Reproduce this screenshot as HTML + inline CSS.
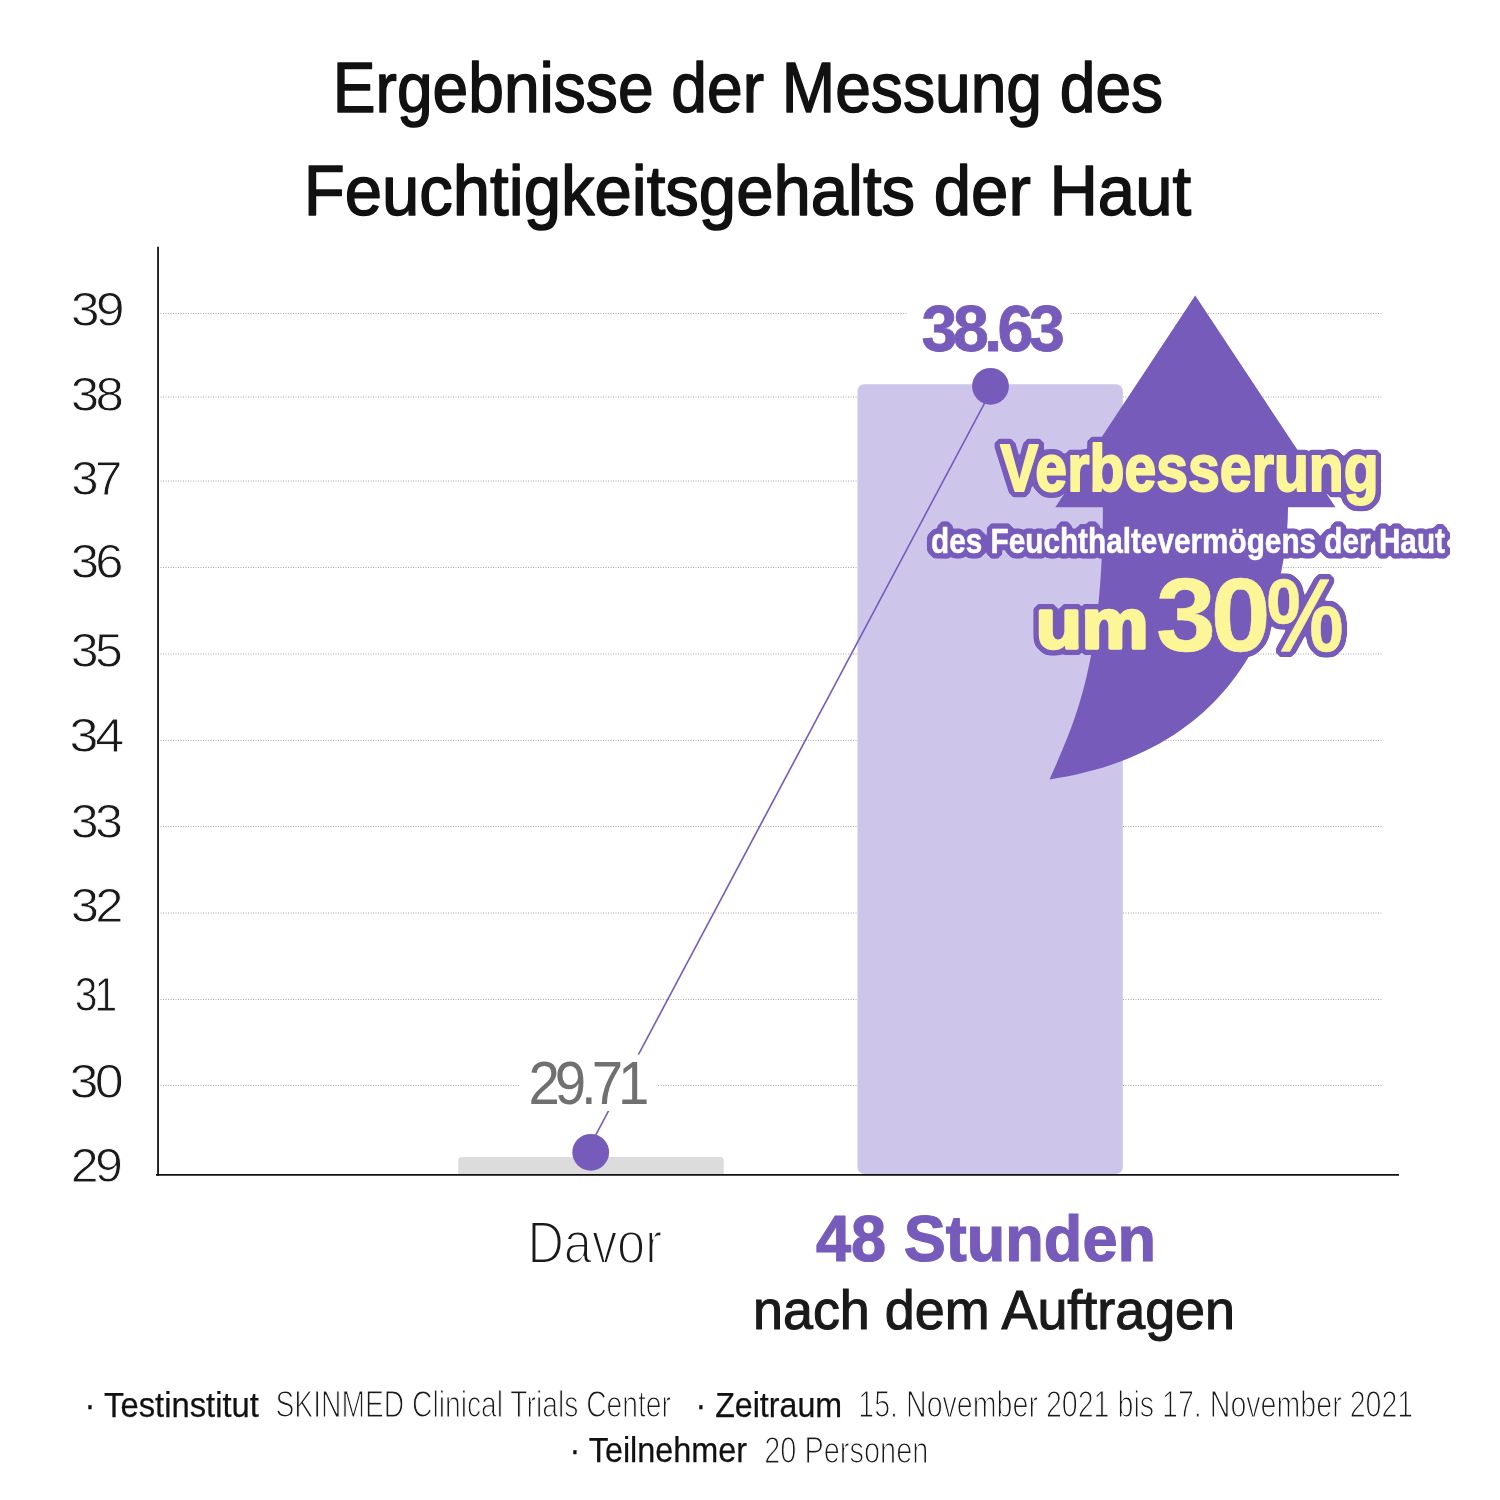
<!DOCTYPE html>
<html lang="de">
<head>
<meta charset="utf-8">
<title>Ergebnisse der Messung des Feuchtigkeitsgehalts der Haut</title>
<style>
  html, body { margin: 0; padding: 0; background: #ffffff; }
  body { width: 1500px; height: 1500px; overflow: hidden; }
  svg { display: block; }
  text { font-family: "Liberation Sans", sans-serif; }
  .ttl  { font-size: 70.7px; fill: #111111; stroke: #111111; stroke-width: 1.5px; stroke-linejoin: round; }
  .ylab { letter-spacing: -3.5px; font-size: 49px; fill: #1a1a1a; stroke: #ffffff; stroke-width: 0.9px; }
  .grid { stroke: #a8a8a8; stroke-width: 1; stroke-dasharray: 1 1.5; fill: none; }
  .axis { stroke: #111111; fill: none; }
  .pur  { fill: #765bbb; }
  .foot { fill: #1a1a1a; }
  .footb { font-size: 34.9px; fill: #111111; stroke: #111111; stroke-width: 0.25px; }
  .footl { font-size: 36.8px; stroke: #ffffff; stroke-width: 1.2px; }
</style>
</head>
<body>
<svg width="1500" height="1500" viewBox="0 0 1500 1500">
  <rect x="0" y="0" width="1500" height="1500" fill="#ffffff"/>

  <!-- TITLE -->
  <g id="title">
    <text id="t1" class="ttl" x="332.85" y="112.0" textLength="830.26" lengthAdjust="spacingAndGlyphs">Ergebnisse der Messung des</text>
    <text id="t2" class="ttl" x="303.67" y="215.0" textLength="887.43" lengthAdjust="spacingAndGlyphs">Feuchtigkeitsgehalts der Haut</text>
  </g>

  <!-- GRID -->
  <g id="grid">
    <line class="grid" x1="160.5" x2="1381.5" y1="313.5" y2="313.5"/>
    <line class="grid" x1="160.5" x2="1381.5" y1="397" y2="397"/>
    <line class="grid" x1="160.5" x2="1381.5" y1="481" y2="481"/>
    <line class="grid" x1="160.5" x2="1381.5" y1="567.5" y2="567.5"/>
    <line class="grid" x1="160.5" x2="1381.5" y1="654" y2="654"/>
    <line class="grid" x1="160.5" x2="1381.5" y1="740.5" y2="740.5"/>
    <line class="grid" x1="160.5" x2="1381.5" y1="826.5" y2="826.5"/>
    <line class="grid" x1="160.5" x2="1381.5" y1="913" y2="913"/>
    <line class="grid" x1="160.5" x2="1381.5" y1="999.5" y2="999.5"/>
    <line class="grid" x1="160.5" x2="1381.5" y1="1085.5" y2="1085.5"/>
  </g>

  <!-- Y LABELS -->
  <g id="ylabels">
    <text id="y39" class="ylab" x="70.65" y="326.2" textLength="50.33" lengthAdjust="spacingAndGlyphs">39</text>
    <text id="y38" class="ylab" x="70.72" y="410.6" textLength="49.45" lengthAdjust="spacingAndGlyphs">38</text>
    <text id="y37" class="ylab" x="71.25" y="495" textLength="47.67" lengthAdjust="spacingAndGlyphs">37</text>
    <text id="y36" class="ylab" x="70.68" y="578.3" textLength="49.33" lengthAdjust="spacingAndGlyphs">36</text>
    <text id="y35" class="ylab" x="70.76" y="667.3" textLength="48.54" lengthAdjust="spacingAndGlyphs">35</text>
    <text id="y34" class="ylab" x="69.36" y="751.7" textLength="51.08" lengthAdjust="spacingAndGlyphs">34</text>
    <text id="y33" class="ylab" x="70.76" y="838.3" textLength="48.54" lengthAdjust="spacingAndGlyphs">33</text>
    <text id="y32" class="ylab" x="70.69" y="922.3" textLength="49.18" lengthAdjust="spacingAndGlyphs">32</text>
    <text id="y31" class="ylab" x="74.65" y="1011" textLength="39.52" lengthAdjust="spacingAndGlyphs">31</text>
    <text id="y30" class="ylab" x="69.48" y="1098.3" textLength="50.48" lengthAdjust="spacingAndGlyphs">30</text>
    <text id="y29" class="ylab" x="70.74" y="1182.3" textLength="48.60" lengthAdjust="spacingAndGlyphs">29</text>
  </g>

  <!-- BARS -->
  <g id="bars">
    <path d="M458.2 1174 V1160.5 a3.5 3.5 0 0 1 3.5 -3.5 H720.2 a3.5 3.5 0 0 1 3.5 3.5 V1174 Z" fill="#dcdcdc"/>
    <rect x="857.5" y="384.3" width="265.3" height="789.7" rx="7" ry="7" fill="#cdc5ea"/>
  </g>

  <!-- ARROW -->
  <path id="arrow" class="pur" d="M1195.2 295.5 L1335.5 507.3 H1288 C1287.8 599.6 1246 750.2 1049.5 779.4 C1074.4 723.8 1102.65 665.5 1102.9 507.3 H1055.3 Z"/>

  <!-- AXES -->
  <g id="axes">
    <line class="axis" x1="158.05" x2="158.05" y1="246.7" y2="1175.8" stroke-width="1.8"/>
    <line class="axis" x1="156" x2="1399" y1="1174.9" y2="1174.9" stroke-width="1.9"/>
  </g>

  <!-- LINE + DOTS -->
  <g id="series">
    <line x1="993.5" y1="386.3" x2="586.5" y2="1152.3" stroke="#765bbb" stroke-width="1.6"/>
    <rect x="519.5" y="1054.5" width="137" height="56.5" fill="#ffffff"/>
    <rect x="908" y="300" width="161.5" height="60" fill="#ffffff"/>
    <circle class="pur" cx="990.5" cy="386.3" r="18.4"/>
    <circle class="pur" cx="590.7" cy="1152.3" r="18.4"/>
    <text id="v29" letter-spacing="-5.5" x="528.38" y="1103.5" font-size="62" fill="#707070" textLength="116.08" lengthAdjust="spacingAndGlyphs">29.71</text>
    <text id="v38" letter-spacing="-4.5" x="921.62" y="351" font-size="64" font-weight="bold" fill="#765bbb" textLength="138.57" lengthAdjust="spacingAndGlyphs" stroke="#765bbb" stroke-width="0.8">38.63</text>
  </g>

  <!-- CALLOUT -->
  <defs>
    <filter id="ol" filterUnits="userSpaceOnUse" x="900" y="420" width="580" height="260" color-interpolation-filters="sRGB">
      <feMorphology in="SourceAlpha" operator="dilate" radius="4.6 1.9" result="d1"/>
      <feMorphology in="SourceAlpha" operator="dilate" radius="1.9 4.6" result="d2"/>
      <feMorphology in="SourceAlpha" operator="dilate" radius="3.4 3.4" result="d3"/>
      <feMerge result="d"><feMergeNode in="d1"/><feMergeNode in="d2"/><feMergeNode in="d3"/></feMerge>
      <feGaussianBlur in="d" stdDeviation="0.9" result="b"/>
      <feComponentTransfer in="b" result="t"><feFuncA type="linear" slope="4" intercept="-1.1"/></feComponentTransfer>
      <feFlood flood-color="#765bbb" result="f"/>
      <feComposite in="f" in2="t" operator="in" result="o"/>
      <feMerge><feMergeNode in="o"/><feMergeNode in="SourceGraphic"/></feMerge>
    </filter>
  </defs>
  <g id="callout" font-weight="bold" stroke-linejoin="round">
    <text id="c1" x="1000.36" y="490.7" font-size="65.8" fill="#fdf698" stroke="#fdf698" stroke-width="2" filter="url(#ol)" textLength="378.38" lengthAdjust="spacingAndGlyphs">Verbesserung</text>
    <text id="c2" x="931.01" y="553.4" font-size="34.6" fill="#ffffff" stroke="#ffffff" stroke-width="0.5" filter="url(#ol)" textLength="513.99" lengthAdjust="spacingAndGlyphs">des Feuchthaltevermögens der Haut</text>
    <text id="c3" x="1035.91" y="647.5" font-size="70.7" fill="#fdf698" stroke="#fdf698" stroke-width="3.5" filter="url(#ol)" textLength="112.40" lengthAdjust="spacingAndGlyphs">um</text>
    <text id="c4" y="651" font-size="104.2" fill="#fdf698" stroke="#fdf698" stroke-width="0.5" filter="url(#ol)"><tspan id="c4a" letter-spacing="-5" x="1155.95" textLength="109.42" lengthAdjust="spacingAndGlyphs">30</tspan><tspan id="c4b" x="1266.41" textLength="77.18" lengthAdjust="spacingAndGlyphs">%</tspan></text>
  </g>

  <!-- X LABELS -->
  <g id="xlabels">
    <text id="xd" x="527.44" y="1262.9" font-size="59" fill="#1a1a1a" stroke="#ffffff" stroke-width="2" textLength="134.50" lengthAdjust="spacingAndGlyphs">Davor</text>
    <text id="x48" x="816.00" y="1261.2" font-size="65.4" font-weight="bold" fill="#765bbb" textLength="340.03" lengthAdjust="spacingAndGlyphs" stroke="#765bbb" stroke-width="1.2">48 Stunden</text>
    <text id="xn" x="752.99" y="1328.7" font-size="55" fill="#1a1a1a" stroke="#1a1a1a" stroke-width="1.1" textLength="482.03" lengthAdjust="spacingAndGlyphs">nach dem Auftragen</text>
  </g>

  <!-- FOOTER -->
  <g id="footer">
    <text id="f1" class="foot footb" x="84.58" y="1416.5" textLength="174.34" lengthAdjust="spacingAndGlyphs">· Testinstitut</text>
    <text id="f2" class="foot footl" x="275.48" y="1417.4" textLength="395.52" lengthAdjust="spacingAndGlyphs">SKINMED Clinical Trials Center</text>
    <text id="f3" class="foot footb" x="695.53" y="1416.5" textLength="146.55" lengthAdjust="spacingAndGlyphs">· Zeitraum</text>
    <text id="f4" class="foot footl" x="858.26" y="1417.4" textLength="555.03" lengthAdjust="spacingAndGlyphs">15. November 2021 bis 17. November 2021</text>
    <text id="f5" class="foot footb" x="569.54" y="1462.1" textLength="177.58" lengthAdjust="spacingAndGlyphs">· Teilnehmer</text>
    <text id="f6" class="foot footl" x="764.24" y="1463" textLength="164.13" lengthAdjust="spacingAndGlyphs">20 Personen</text>
  </g>
</svg>
</body>
</html>
